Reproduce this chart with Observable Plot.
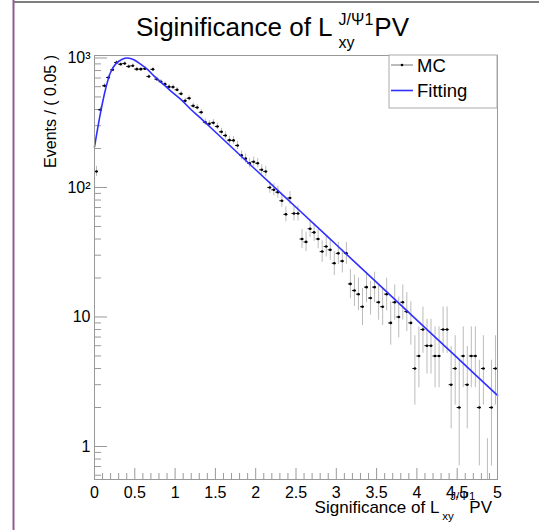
<!DOCTYPE html>
<html><head><meta charset="utf-8">
<script src="https://cdn.jsdelivr.net/npm/d3@7"></script>
<script src="https://cdn.jsdelivr.net/npm/@observablehq/plot@0.6"></script>
<style>
body{margin:0;background:#fff;}
#chart{position:relative;width:539px;height:530px;}
</style></head><body><div id="chart"></div>
<script>
// ---- data ----
const binWidth = 0.05;
const counts = [133,398,610,707,811,923,895,907,860,871,
                820,820,826,720,817,686,655,628,600,596,
                568,529,467,489,427,415,381,319,310,316,
                296,269,252,232,231,211,177,167,154,158,
                154,137,133,100,96,92,79,62,83,63,
                63,40,38,48,45,40,32,35,33,26,
                31,27,31,18,16,15,12,17,14,17,
                13,12,15,9,13,10,13,11,9,4,
                5,8,6,6,5,5,8,8,3,4,
                2,5,3,5,5,2,4,0,2,4];
const fitX = [0,0.075,0.137,0.199,0.261,0.344,0.41,0.489,0.571,0.654,0.737,0.82,0.944,1.068,1.193,1.317,1.5,2.0,2.5,3.0,3.5,4.0,4.5,5.0];
const fitY = [206,379,574,773,896,979,1000,969,896,820,728,654,558,481,402,343,268,137,70.4,36.1,18.5,9.47,4.85,2.48];
const xMajor = [0,0.5,1,1.5,2,2.5,3,3.5,4,4.5,5];
const xLabels = ["0","0.5","1","1.5","2","2.5","3","3.5","4","4.5","5"];
const xMinor = d3.range(0,51).map(i=>i/10).filter(v=>Math.abs(v*2-Math.round(v*2))>1e-6);
const yMajor = [1,10,100,1000];
const yLabels = ["1","10","10\u00B2","10\u00B3"];
const yMinor = [0.6,0.7,0.8,0.9,2,3,4,5,6,7,8,9,20,30,40,50,60,70,80,90,200,300,400,500,600,700,800,900];
const yDomain = [0.556, 1045];

// ---- Poisson (Garwood) error bars as in RooFit ----
const lnFact = [0]; for (let i=1;i<=2000;i++) lnFact[i]=lnFact[i-1]+Math.log(i);
function cdf(k, mu){ if(k<0) return 0; let s=0; for(let i=0;i<=k;i++) s+=Math.exp(-mu+i*Math.log(mu)-lnFact[i]); return s; }
const alpha = (1-0.682689)/2;
function interval(n){
  if(n===0) return [0, 1.148];
  let a=0,b=n; for(let t=0;t<60;t++){const m=(a+b)/2; if(cdf(n-1,m)>1-alpha) a=m; else b=m;}
  const lo=(a+b)/2;
  a=n; b=n+10*Math.sqrt(n)+10; for(let t=0;t<60;t++){const m=(a+b)/2; if(cdf(n,m)>alpha) a=m; else b=m;}
  return [lo,(a+b)/2];
}
const bins = counts.map((n,i)=>{const [lo,hi]=interval(n);
  return {x0:i*binWidth, x1:(i+1)*binWidth, x:(i+0.5)*binWidth, n, lo:Math.max(lo,yDomain[0]), hi};});
const binsNZ = bins.filter(d=>d.n>0);
const fit = fitX.map((x,i)=>({x, y:fitY[i]}));

// ---- layout ----
const W=539,H=530,mL=94,mR=42,mT=55,mB=51;
const pw=W-mL-mR, ph=H-mT-mB;
const font="'Liberation Sans', Arial, Helvetica, sans-serif";
const xl=new Map(xMajor.map((v,i)=>[v,xLabels[i]]));
const yl=new Map(yMajor.map((v,i)=>[v,yLabels[i]]));
const axisCol="#999";

const chart = Plot.plot({
  width:W, height:H, marginLeft:mL, marginRight:mR, marginTop:mT, marginBottom:mB,
  style:{fontFamily:font, fontSize:"16px", color:"#000", background:"#fff"},
  x:{domain:[0,5]},
  y:{type:"log", domain:yDomain},
  marks:[
    Plot.ruleX(xMinor,{stroke:axisCol, insetTop:ph-6}),
    Plot.ruleX(xMajor,{stroke:axisCol, insetTop:ph-11}),
    Plot.ruleY(yMinor,{stroke:axisCol, insetRight:pw-7}),
    Plot.ruleY(yMajor,{stroke:axisCol, insetRight:pw-13}),
    Plot.axisX(xMajor,{tickSize:0, tickPadding:7, tickFormat:d=>xl.get(d), fontSize:16, label:null}),
    Plot.axisY(yMajor,{tickSize:0, tickPadding:4, tickFormat:d=>yl.get(d), fontSize:16, label:null}),
    Plot.ruleX(bins,{x:"x", y1:"lo", y2:"hi", stroke:"#bcbcbc", strokeWidth:1}),
    Plot.ruleY(binsNZ,{x1:"x0", x2:"x1", y:"n", stroke:"#111", strokeWidth:1}),
    Plot.dot(binsNZ,{x:"x", y:"n", r:1.3, fill:"#000", stroke:null}),
    Plot.line(fit,{x:"x", y:"y", stroke:"#2f2fff", strokeWidth:1.6, curve:"catmull-rom"}),
    Plot.frame({stroke:axisCol})
  ]
});
document.getElementById("chart").appendChild(chart);

// ---- decorations & rich text ----
const svg = d3.select(chart);
function txt(g,x,y,s,size,anchor){return g.append("text").attr("x",x).attr("y",y).attr("font-family",font)
  .attr("font-size",size).attr("fill","#000").attr("text-anchor",anchor||"start").text(s);}
function rich(x,y,main,sub,sup,tail,size,ssize,subDy,supDy,subDx,supDx,align){
  const g=svg.append("g");
  const a=txt(g,0,y,main,size);
  const la=a.node().getComputedTextLength();
  const b=txt(g,la+subDx,y+subDy,sub,ssize);
  const c=txt(g,la+supDx,y+supDy,sup,ssize);
  const e=Math.max(la+subDx+b.node().getComputedTextLength(), la+supDx+c.node().getComputedTextLength());
  const p=txt(g,e+(align==="title"?1:-6),y,tail,size);
  const total=e+(align==="title"?1:-6)+p.node().getComputedTextLength();
  const off = align==="title" ? x-total/2 : x-total;
  g.attr("transform",`translate(${off},0)`);
}
// frame lines of canvas
svg.append("line").attr("x1",13).attr("x2",539).attr("y1",2).attr("y2",2).attr("stroke","#555").attr("stroke-width",1.5);
svg.append("line").attr("x1",13.5).attr("x2",13.5).attr("y1",0).attr("y2",530).attr("stroke","#8e5f8e").attr("stroke-width",2);
// title
rich(272.5,36,"Siginificance of L","xy","J/\u03A81","PV",26,16,12,-11,6,6,"title");
// x axis title
rich(492,513,"Significance of L","xy","J/\u03A81","PV",17,11.5,7,-13,3,11,"right");
// y axis title
svg.append("text").attr("transform","translate(56,55) rotate(-90)").attr("text-anchor","end")
  .attr("font-family",font).attr("font-size",16).attr("fill","#000").text("Events / ( 0.05 )");
// legend
const lg=svg.append("g");
lg.append("rect").attr("x",389).attr("y",55).attr("width",108).attr("height",53).attr("fill","#fff").attr("stroke","#aaa");
lg.append("line").attr("x1",391).attr("x2",413).attr("y1",65).attr("y2",65).attr("stroke","#777");
lg.append("circle").attr("cx",402).attr("cy",65).attr("r",1.3).attr("fill","#000");
txt(lg,417,71.5,"MC",18.5);
lg.append("line").attr("x1",391).attr("x2",413).attr("y1",90.5).attr("y2",90.5).attr("stroke","#2f2fff").attr("stroke-width",1.6);
txt(lg,417,96.5,"Fitting",18.5);
</script></body></html>
